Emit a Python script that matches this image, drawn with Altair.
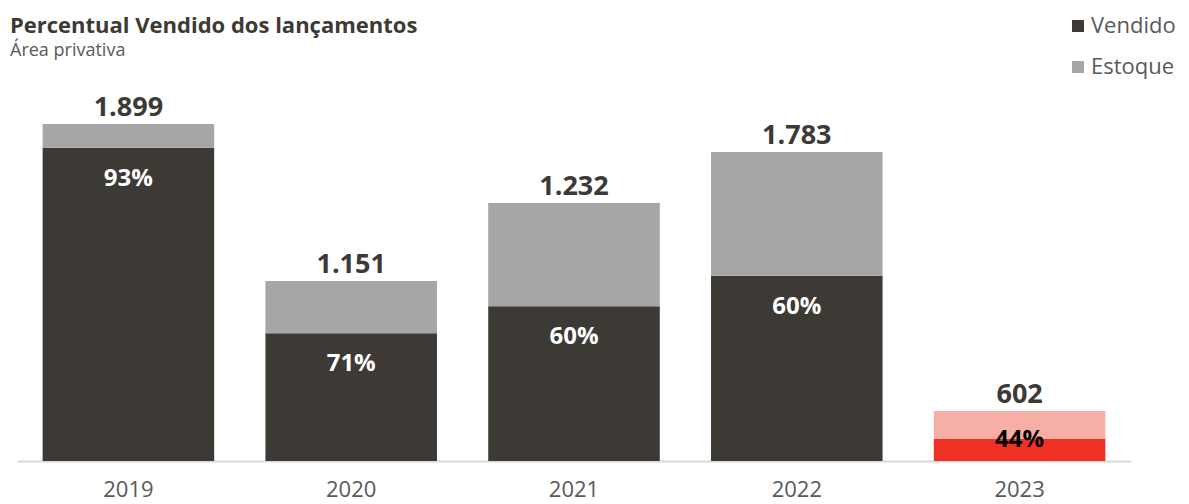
import altair as alt
import pandas as pd

# ---- data ----
years = ["2019", "2020", "2021", "2022", "2023"]
total_labels = ["1.899", "1.151", "1.232", "1.783", "602"]
bar_total = [1899, 1014, 1454, 1741, 282]   # bar heights (2019 = 1899 scale)
sold_pct = [93, 71, 60, 60, 44]
title_text = "Percentual Vendido dos lançamentos"
subtitle_text = "Área privativa"
series = ["Vendido", "Estoque"]

FONT = "Open Sans"
DARK = "#3d3935"
GRAY = "#a6a6a6"
RED = "#ee3124"
PINK = "#f7aea7"

rows = []
for y, tot, pct in zip(years, bar_total, sold_pct):
    sold = tot * pct / 100.0
    suffix = " 2023" if y == "2023" else ""
    rows.append({"ano": y, "serie": series[0] + suffix, "y0": 0, "y1": sold})
    rows.append({"ano": y, "serie": series[1] + suffix, "y0": sold, "y1": tot})
seg = pd.DataFrame(rows)

lab = pd.DataFrame({
    "ano": years,
    "total": bar_total,
    "sold": [t * p / 100.0 for t, p in zip(bar_total, sold_pct)],
    "tlabel": total_labels,
    "plabel": [f"{p}%" for p in sold_pct],
})

x_scale = alt.Scale(paddingInner=0.23, paddingOuter=0.115)
y_scale = alt.Scale(domain=[0, 2553], nice=False, zero=True)

color_domain = ["Vendido", "Estoque", "Vendido 2023", "Estoque 2023"]
color_range = [DARK, GRAY, RED, PINK]

bars = alt.Chart(seg).mark_bar().encode(
    x=alt.X("ano:N", scale=x_scale, title=None,
            axis=alt.Axis(labelAngle=0, ticks=False, domainColor="#d9d9d9",
                          domainWidth=2, labelColor="#595959", labelFontSize=22,
                          labelFont=FONT, labelPadding=18, grid=False)),
    y=alt.Y("y0:Q", scale=y_scale, axis=None),
    y2="y1:Q",
    color=alt.Color("serie:N",
                    scale=alt.Scale(domain=color_domain, range=color_range),
                    legend=alt.Legend(values=series, title=None, orient="none",
                                      legendX=1050, legendY=7, symbolType="square",
                                      symbolSize=144, symbolStrokeWidth=0,
                                      labelFontSize=22, labelFont=FONT,
                                      labelColor="#595959", labelOffset=2,
                                      rowPadding=19, padding=0)),
)

base = alt.Chart(lab).encode(x=alt.X("ano:N", scale=x_scale))

totals = base.mark_text(fontSize=27, fontWeight="bold", font=FONT, color=DARK,
                        baseline="alphabetic", dy=-8).encode(
    y=alt.Y("total:Q", scale=y_scale), text="tlabel:N")

pcts = base.transform_filter(alt.datum.ano != "2023").mark_text(
    fontSize=24, fontWeight="bold", font=FONT, color="white",
    baseline="middle", dy=31).encode(
    y=alt.Y("sold:Q", scale=y_scale), text="plabel:N")

pct23 = base.transform_filter(alt.datum.ano == "2023").mark_text(
    fontSize=24, fontWeight="bold", font=FONT, color="black",
    baseline="middle", dy=1).encode(
    y=alt.Y("sold:Q", scale=y_scale), text="plabel:N")

title = alt.Chart(pd.DataFrame({"t": [title_text]})).mark_text(
    fontSize=22, fontWeight="bold", font=FONT, color=DARK, align="left",
    baseline="alphabetic").encode(text="t:N", x=alt.value(-7), y=alt.value(25))

subtitle = alt.Chart(pd.DataFrame({"t": [subtitle_text]})).mark_text(
    fontSize=18, font=FONT, color="#595959", align="left",
    baseline="alphabetic").encode(text="t:N", x=alt.value(-7), y=alt.value(48))

chart = alt.layer(bars, totals, pcts, pct23, title, subtitle).properties(
    width=1114, height=453,
    autosize=alt.AutoSizeParams(type="none"),
    padding={"left": 9, "right": 50, "top": 0, "bottom": 43},
).configure_view(stroke=None)

chart.save("out.html", embed_options={"renderer": "svg", "actions": False})
